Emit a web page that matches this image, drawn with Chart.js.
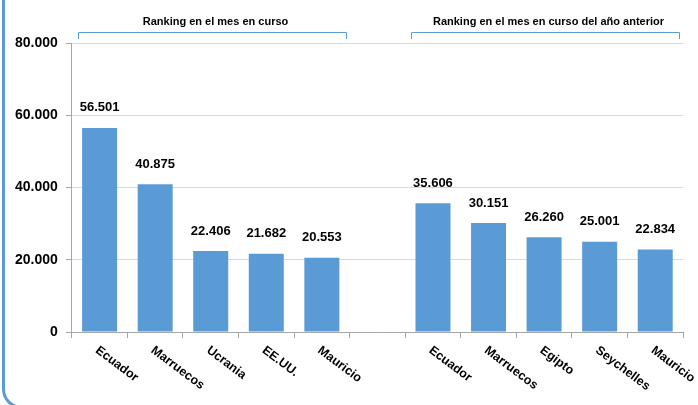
<!DOCTYPE html>
<html>
<head>
<meta charset="utf-8">
<script src="https://cdn.jsdelivr.net/npm/chart.js@4/dist/chart.umd.min.js"></script>
<style>
  body { margin: 0; background: #fff; }
  #wrap { position: relative; width: 698px; height: 405px; overflow: hidden; }
  #marco { position: absolute; left: 2px; top: -40px; width: 800px; height: 449px;
           border: 3px solid #5b9bd5; border-radius: 20px; box-sizing: border-box; }
  canvas { position: absolute; left: 0; top: 0; }
</style>
</head>
<body>
<div id="wrap">
  <div id="marco"></div>
  <canvas id="grafica" width="698" height="405"></canvas>
</div>
<script>
// datos
const paises = ['Ecuador', 'Marruecos', 'Ucrania', 'EE.UU.', 'Mauricio', '', 'Ecuador', 'Marruecos', 'Egipto', 'Seychelles', 'Mauricio'];
const valores = [56501, 40875, 22406, 21682, 20553, null, 35606, 30151, 26260, 25001, 22834];
const titulosGrupo = ['Ranking en el mes en curso', 'Ranking en el mes en curso del año anterior'];
const rangosGrupo = [[0, 4], [6, 10]];
const ticksY = [0, 20000, 40000, 60000, 80000];

const AZUL = '#5b9bd5';
const FUENTE = '"Liberation Sans", Arial, sans-serif';

function miles(v) {
    return String(v).replace(/\B(?=(\d{3})+(?!\d))/g, '.');
}

// etiquetas de valor, categorias giradas y corchetes de grupo
const extras = {
    id: 'extras',
    afterDatasetsDraw(chart) {
        const ctx = chart.ctx;
        const x = chart.scales.x;
        const y = chart.scales.y;
        const paso = x.getPixelForTick(1) - x.getPixelForTick(0);
        ctx.save();

        // valores encima de las barras
        ctx.fillStyle = '#000';
        ctx.font = 'bold 13px ' + FUENTE;
        ctx.textAlign = 'center';
        ctx.textBaseline = 'middle';
        valores.forEach((v, i) => {
            if (v == null) return;
            ctx.fillText(miles(v), x.getPixelForTick(i), y.getPixelForValue(v) - 20);
        });

        // nombres de paises girados
        ctx.font = 'bold 12.5px ' + FUENTE;
        ctx.textAlign = 'left';
        ctx.textBaseline = 'top';
        paises.forEach((p, i) => {
            if (!p) return;
            ctx.save();
            ctx.translate(x.getPixelForTick(i) + 1, y.bottom + 12);
            ctx.rotate(37 * Math.PI / 180);
            ctx.fillText(p, 0, 0);
            ctx.restore();
        });

        // corchetes y titulos de grupo
        ctx.strokeStyle = AZUL;
        ctx.lineWidth = 1;
        ctx.font = 'bold 11px ' + FUENTE;
        ctx.textAlign = 'center';
        ctx.textBaseline = 'middle';
        rangosGrupo.forEach((r, g) => {
            const x0 = Math.round(x.getPixelForTick(r[0]) - paso / 2 + 6) + 0.5;
            const x1 = Math.round(x.getPixelForTick(r[1]) + paso / 2 - 4) + 0.5;
            ctx.beginPath();
            ctx.moveTo(x0, 39);
            ctx.lineTo(x0, 32.5);
            ctx.lineTo(x1, 32.5);
            ctx.lineTo(x1, 39);
            ctx.stroke();
            ctx.fillText(titulosGrupo[g], (x0 + x1) / 2 + 3, 22);
        });
        ctx.restore();
    }
};

new Chart(document.getElementById('grafica'), {
    type: 'bar',
    data: {
        labels: paises,
        datasets: [{
            data: valores,
            backgroundColor: AZUL,
            barPercentage: 0.63,
            categoryPercentage: 1
        }]
    },
    options: {
        responsive: false,
        animation: false,
        layout: { padding: { left: 7, right: 15, top: 43, bottom: 67 } },
        plugins: { legend: { display: false }, tooltip: { enabled: false } },
        scales: {
            x: {
                offset: true,
                grid: { offset: true, drawOnChartArea: false, tickLength: 6, tickColor: '#a6a6a6' },
                border: { color: '#a6a6a6' },
                ticks: { display: false }
            },
            y: {
                min: 0,
                max: 80000,
                afterBuildTicks(scale) { scale.ticks = ticksY.map(v => ({ value: v })); },
                grid: { color: '#d9d9d9', tickLength: 6, tickColor: '#a6a6a6' },
                border: { color: '#a6a6a6' },
                ticks: {
                    padding: 8,
                    color: '#000',
                    font: { family: FUENTE, size: 14, weight: 'bold' },
                    callback: v => miles(v)
                }
            }
        }
    },
    plugins: [extras]
});
</script>
</body>
</html>
